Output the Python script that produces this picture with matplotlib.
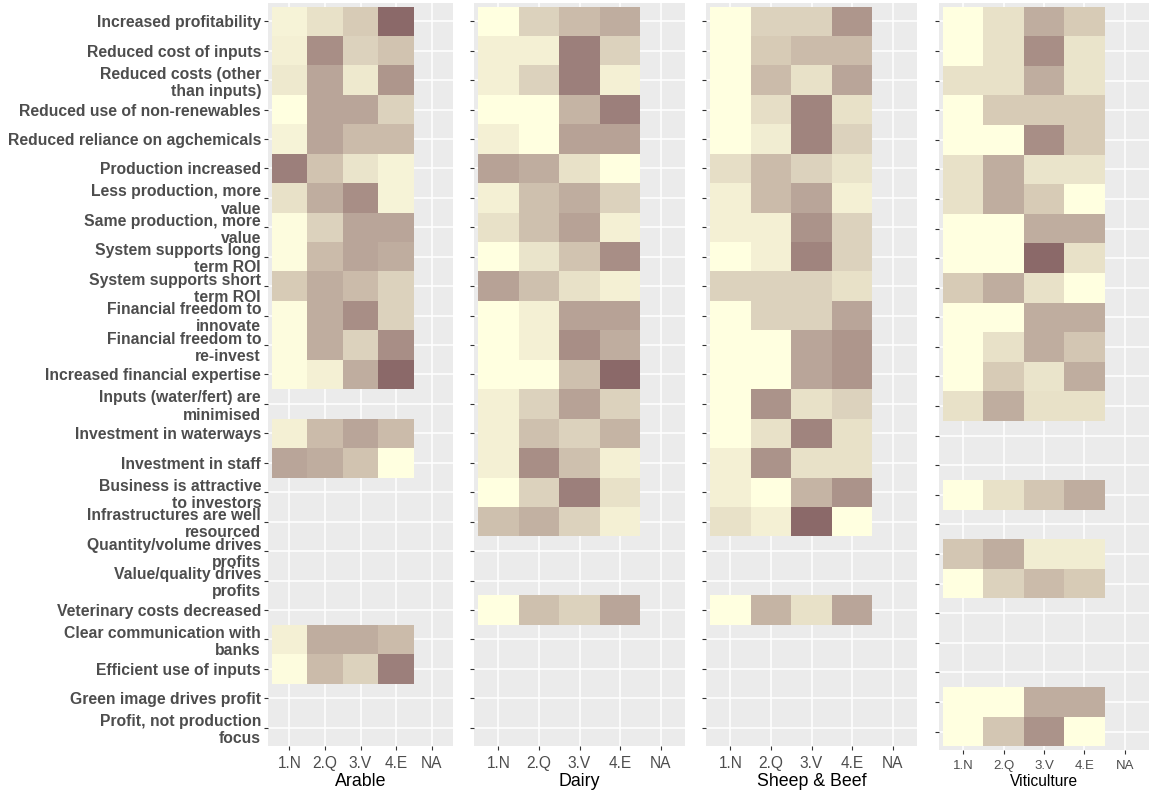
import numpy as np
import matplotlib
matplotlib.use("Agg")
import matplotlib.pyplot as plt
from matplotlib.colors import LinearSegmentedColormap

plt.rcParams['font.family'] = ['Liberation Sans', 'DejaVu Sans']

# outcome statements, top to bottom
outcomes = [
	'Increased profitability',
	'Reduced cost of inputs',
	'Reduced costs (other\nthan inputs)',
	'Reduced use of non-renewables',
	'Reduced reliance on agchemicals',
	'Production increased',
	'Less production, more\nvalue',
	'Same production, more\nvalue',
	'System supports long\nterm ROI',
	'System supports short\nterm ROI',
	'Financial freedom to\ninnovate',
	'Financial freedom to\nre-invest',
	'Increased financial expertise',
	'Inputs (water/fert) are\nminimised',
	'Investment in waterways',
	'Investment in staff',
	'Business is attractive\nto investors',
	'Infrastructures are well\nresourced',
	'Quantity/volume drives\nprofits',
	'Value/quality drives\nprofits',
	'Veterinary costs decreased',
	'Clear communication with\nbanks',
	'Efficient use of inputs',
	'Green image drives profit',
	'Profit, not production\nfocus',
]
levels = ['1.N', '2.Q', '3.V', '4.E', 'NA']
sectors = ['Arable', 'Dairy', 'Sheep & Beef', 'Viticulture']

# scores per outcome for 1.N, 2.Q, 3.V, 4.E (None = not asked)
arable = [
	[0.08, 0.20, 0.35, 1.00],
	[0.10, 0.75, 0.30, 0.40],
	[0.15, 0.60, 0.15, 0.70],
	[0.00, 0.60, 0.60, 0.30],
	[0.08, 0.60, 0.45, 0.45],
	[0.85, 0.40, 0.18, 0.08],
	[0.20, 0.55, 0.75, 0.08],
	[0.02, 0.30, 0.60, 0.60],
	[0.02, 0.45, 0.60, 0.55],
	[0.35, 0.55, 0.45, 0.30],
	[0.02, 0.55, 0.75, 0.30],
	[0.02, 0.55, 0.30, 0.75],
	[0.02, 0.10, 0.55, 1.00],
	None,
	[0.10, 0.45, 0.60, 0.45],
	[0.60, 0.55, 0.40, 0.00],
	None,
	None,
	None,
	None,
	None,
	[0.10, 0.55, 0.55, 0.45],
	[0.02, 0.45, 0.30, 0.85],
	None,
	None,
]
dairy = [
	[0.00, 0.30, 0.45, 0.55],
	[0.10, 0.10, 0.85, 0.30],
	[0.10, 0.30, 0.85, 0.10],
	[0.00, 0.00, 0.50, 0.85],
	[0.10, 0.00, 0.62, 0.62],
	[0.62, 0.55, 0.20, 0.00],
	[0.10, 0.42, 0.55, 0.30],
	[0.20, 0.42, 0.62, 0.10],
	[0.00, 0.18, 0.40, 0.75],
	[0.62, 0.42, 0.20, 0.10],
	[0.00, 0.10, 0.62, 0.62],
	[0.00, 0.10, 0.75, 0.55],
	[0.00, 0.00, 0.42, 1.00],
	[0.10, 0.30, 0.62, 0.30],
	[0.10, 0.42, 0.30, 0.50],
	[0.10, 0.75, 0.42, 0.10],
	[0.00, 0.30, 0.85, 0.20],
	[0.42, 0.52, 0.30, 0.10],
	None,
	None,
	[0.00, 0.42, 0.30, 0.60],
	None,
	None,
	None,
	None,
]
sheep_beef = [
	[0.00, 0.30, 0.30, 0.70],
	[0.00, 0.35, 0.45, 0.45],
	[0.00, 0.45, 0.20, 0.60],
	[0.00, 0.22, 0.82, 0.20],
	[0.00, 0.12, 0.82, 0.30],
	[0.22, 0.45, 0.30, 0.18],
	[0.10, 0.45, 0.60, 0.10],
	[0.10, 0.10, 0.72, 0.30],
	[0.00, 0.10, 0.82, 0.30],
	[0.30, 0.30, 0.30, 0.20],
	[0.00, 0.30, 0.30, 0.60],
	[0.00, 0.00, 0.60, 0.70],
	[0.00, 0.00, 0.60, 0.70],
	[0.00, 0.72, 0.20, 0.30],
	[0.00, 0.20, 0.82, 0.20],
	[0.10, 0.72, 0.20, 0.20],
	[0.10, 0.00, 0.50, 0.72],
	[0.20, 0.10, 1.00, 0.00],
	None,
	None,
	[0.00, 0.50, 0.20, 0.60],
	None,
	None,
	None,
	None,
]
viticulture = [
	[0.00, 0.20, 0.55, 0.35],
	[0.00, 0.20, 0.75, 0.18],
	[0.20, 0.20, 0.55, 0.18],
	[0.00, 0.35, 0.35, 0.35],
	[0.00, 0.00, 0.75, 0.35],
	[0.20, 0.55, 0.18, 0.18],
	[0.20, 0.55, 0.35, 0.00],
	[0.00, 0.00, 0.55, 0.55],
	[0.00, 0.00, 1.00, 0.20],
	[0.35, 0.55, 0.20, 0.00],
	[0.00, 0.00, 0.55, 0.55],
	[0.00, 0.20, 0.55, 0.38],
	[0.00, 0.35, 0.18, 0.55],
	[0.20, 0.55, 0.20, 0.20],
	None,
	None,
	[0.00, 0.20, 0.38, 0.55],
	None,
	[0.38, 0.55, 0.12, 0.12],
	[0.00, 0.30, 0.45, 0.35],
	None,
	None,
	None,
	[0.00, 0.00, 0.55, 0.55],
	[0.00, 0.38, 0.72, 0.00],
]

cmap = LinearSegmentedColormap.from_list('ly_rb', ['#FFFFE0', '#8B6969'])


def to_grid(rows):
	out = np.full((len(rows), len(levels)), np.nan)
	for i, r in enumerate(rows):
		if r is not None:
			out[i, :len(r)] = r
	return np.ma.masked_invalid(out)


fig = plt.figure(figsize=(11.5, 7.94), dpi=100)
W, H = 1150, 794
# panel boxes in pixels: left, top, right, bottom
boxes = [(268, 3, 453, 746), (474, 3, 685, 746), (706, 3, 917, 746), (939, 3, 1149, 750)]
data = [arable, dairy, sheep_beef, viticulture]

for k, (name, rows, (l, t, r, b)) in enumerate(zip(sectors, data, boxes)):
	ax = fig.add_axes([l/W, 1 - b/H, (r - l)/W, (b - t)/H])
	ax.set_facecolor('#EBEBEB')
	ax.grid(True, color='white', linewidth=1.1)
	ax.set_axisbelow(True)
	for s in ax.spines.values():
		s.set_visible(False)
	xe = np.arange(len(levels) + 1) + 0.5
	ye = np.arange(len(outcomes) + 1) + 0.5
	ax.pcolormesh(xe, ye, to_grid(rows), cmap=cmap, vmin=0, vmax=1, zorder=2)
	ax.set_xlim(0.4, len(levels) + 0.6)
	ax.set_ylim(len(outcomes) + 0.62, 0.38)
	ax.set_xticks(np.arange(1, len(levels) + 1))
	ax.set_yticks(np.arange(1, len(outcomes) + 1))
	small = (name == 'Viticulture')
	ax.set_xticklabels(levels, fontsize=9.5 if small else 11.2, color='#4D4D4D')
	ax.tick_params(axis='both', length=3, width=0.8, color='#333333')
	ax.tick_params(axis='x', pad=4)
	if k == 0:
		ax.set_yticklabels(outcomes, fontsize=11.3, fontweight='bold', color='#4D4D4D',
			linespacing=1.18, multialignment='right')
		ax.tick_params(axis='y', pad=2)
	else:
		ax.set_yticklabels([])
	ax.set_xlabel(name, fontsize=11.2 if small else 12.8, color='black', labelpad=2)

fig.savefig('out.png', dpi=100)
